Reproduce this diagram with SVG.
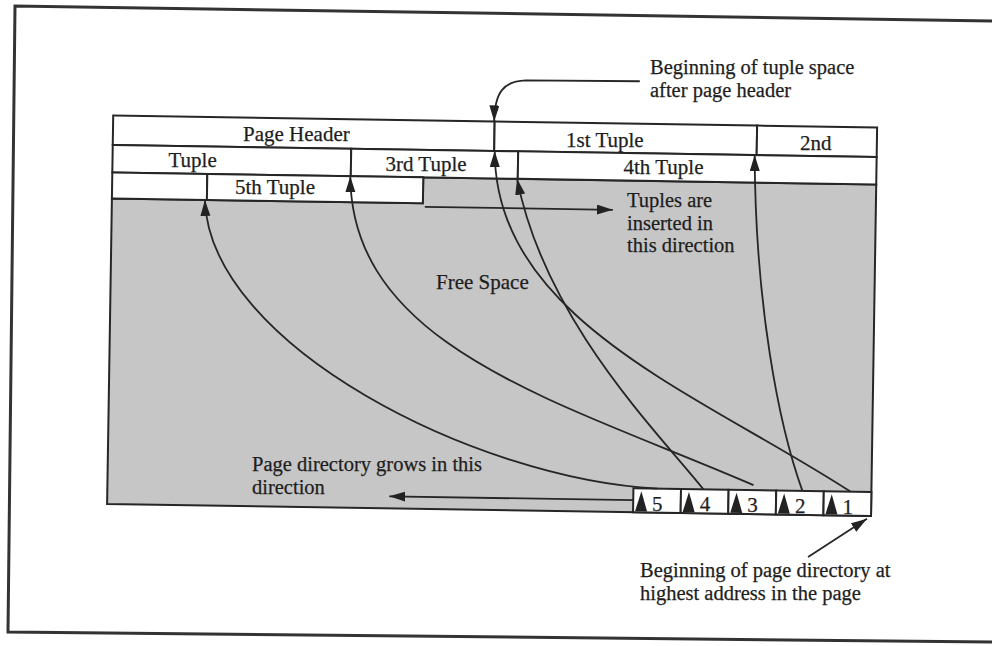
<svg xmlns="http://www.w3.org/2000/svg" width="992" height="646" viewBox="0 0 992 646">
<defs>
<marker id="ah" markerUnits="userSpaceOnUse" markerWidth="18" markerHeight="12" refX="16" refY="5" orient="auto"><path d="M0,0 L16,5 L0,10 z" fill="#222"/></marker>
</defs>
<style>
text{font-family:"Liberation Serif","Times New Roman",serif;font-size:21px;fill:#1e1e1e;stroke:#1e1e1e;stroke-width:0.25}
.note{font-size:20.5px}
.cell{fill:#fff;stroke:#262626;stroke-width:2}
.con{fill:none;stroke:#262626;stroke-width:1.8}
.tri{fill:#222}
</style>
<rect width="992" height="646" fill="#fff"/>
<path id="frame" d="M992,21 L15,6 L8,632 L992,642" fill="none" stroke="#333" stroke-width="3"/>
<g id="free-space">
  <path transform="rotate(0.9 496 323)" d="M421,178.5 H874 V510 H110 V204.5 H421 Z" fill="#c6c6c6" stroke="#262626" stroke-width="2"/>
  <text x="436" y="289">Free Space</text>
</g>
<g id="page-header">
  <rect transform="rotate(0.9 496 323)" x="110" y="121.5" width="381.5" height="29.5" class="cell"/>
  <text x="243" y="141">Page Header</text>
</g>
<g id="tuple-1">
  <rect transform="rotate(0.9 496 323)" x="491.5" y="121.5" width="262.5" height="29.5" class="cell"/>
  <text x="566" y="147">1st Tuple</text>
</g>
<g id="tuple-2">
  <rect transform="rotate(0.9 496 323)" x="754" y="121.5" width="120" height="29.5" class="cell"/>
  <text x="800" y="150">2nd</text>
  <rect transform="rotate(0.9 496 323)" x="110" y="151" width="238.5" height="27.5" class="cell"/>
  <text x="168.5" y="167">Tuple</text>
</g>
<g id="tuple-3">
  <rect transform="rotate(0.9 496 323)" x="348.5" y="151" width="167" height="27.5" class="cell"/>
  <text x="385.5" y="171">3rd Tuple</text>
</g>
<g id="tuple-4">
  <rect transform="rotate(0.9 496 323)" x="515.5" y="151" width="358.5" height="27.5" class="cell"/>
  <text x="623.5" y="174">4th Tuple</text>
  <rect transform="rotate(0.9 496 323)" x="110" y="178.5" width="95" height="26" class="cell"/>
</g>
<g id="tuple-5">
  <rect transform="rotate(0.9 496 323)" x="205" y="178.5" width="216" height="26" class="cell"/>
  <text x="235" y="194">5th Tuple</text>
</g>
<g id="insert-note">
  <text class="note" x="627" y="207">Tuples are</text>
  <text class="note" x="627" y="229.5">inserted in</text>
  <text class="note" x="627" y="252">this direction</text>
</g>
<g id="grow-note">
  <text class="note" x="252" y="471">Page directory grows in this</text>
  <text class="note" x="252" y="494">direction</text>
</g>
<g id="tuple-space-note">
  <text class="note" x="650" y="74">Beginning of tuple space</text>
  <text class="note" x="650" y="97">after page header</text>
</g>
<g id="directory-note">
  <text class="note" x="640" y="577">Beginning of page directory at</text>
  <text class="note" x="640" y="600">highest address in the page</text>
</g>
<g id="page-directory">
  <g id="slot-5"><g transform="rotate(0.9 496 323)"><rect x="636" y="486" width="47.6" height="24" class="cell"/><path class="tri" d="M638,509 L644,489 L650,509 Z"/></g><text x="652" y="510.5">5</text></g>
  <g id="slot-4"><g transform="rotate(0.9 496 323)"><rect x="683.6" y="486" width="47.6" height="24" class="cell"/><path class="tri" d="M685.6,509 L691.6,489 L697.6,509 Z"/></g><text x="699.7" y="511.2">4</text></g>
  <g id="slot-3"><g transform="rotate(0.9 496 323)"><rect x="731.2" y="486" width="47.6" height="24" class="cell"/><path class="tri" d="M733.2,509 L739.2,489 L745.2,509 Z"/></g><text x="747.3" y="512">3</text></g>
  <g id="slot-2"><g transform="rotate(0.9 496 323)"><rect x="778.8" y="486" width="47.6" height="24" class="cell"/><path class="tri" d="M780.8,509 L786.8,489 L792.8,509 Z"/></g><text x="794.9" y="512.7">2</text></g>
  <g id="slot-1"><g transform="rotate(0.9 496 323)"><rect x="826.4" y="486" width="47.6" height="24" class="cell"/><path class="tri" d="M828.4,509 L834.4,489 L840.4,509 Z"/></g><text x="842.5" y="513.5">1</text></g>
</g>
<g id="connectors" transform="rotate(0.9 496 323)">
  <path class="con" marker-end="url(#ah)" d="M660,486 C480,480 210,350 203,204.5"/>
  <path class="con" marker-end="url(#ah)" d="M706,486 C660,430 545,320 514.8,178.5"/>
  <path class="con" marker-end="url(#ah)" d="M756,481 C560,400 352,350 348,178.5"/>
  <path class="con" marker-end="url(#ah)" d="M805,486 C780,420 755,300 752,151"/>
  <path class="con" marker-end="url(#ah)" d="M853,486 C700,390 495,320 492,151"/>
  <path class="con" marker-end="url(#ah)" d="M636,79 L522,80 C500,81 491,92 491,121.5"/>
  <path class="con" marker-end="url(#ah)" d="M423,208 L611,208"/>
  <path class="con" marker-end="url(#ah)" d="M636,498 L392,498"/>
  <path class="con" marker-end="url(#ah)" d="M811.7,552 L870,513"/>
</g>
</svg>
